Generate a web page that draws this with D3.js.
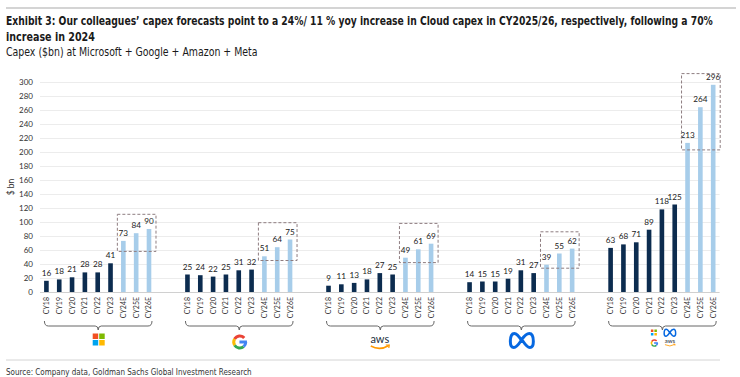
<!DOCTYPE html>
<html>
<head>
<meta charset="utf-8">
<script src="https://cdn.jsdelivr.net/npm/d3@7"></script>
<style>
  html, body { margin: 0; padding: 0; background: #fff; }
  svg { display: block; }
  .cond { font-family: "Liberation Sans Narrow", "DejaVu Sans Condensed", "Roboto Condensed", sans-serif; }
  .lab { font-family: Lato, "Liberation Sans", sans-serif; }
</style>
</head>
<body>
<svg id="chart" width="740" height="377"></svg>
<script>
// ---------- data ----------
const companies = ["Microsoft", "Google", "Amazon", "Meta", "Total"];
const years = ["CY18", "CY19", "CY20", "CY21", "CY22", "CY23", "CY24E", "CY25E", "CY26E"];
const msft   = [16, 18, 21, 28, 28, 41, 73, 84, 90];
const google = [25, 24, 22, 25, 31, 32, 51, 64, 75];
const amazon = [9, 11, 13, 18, 27, 25, 49, 61, 69];
const meta   = [14, 15, 15, 19, 31, 27, 39, 55, 62];
const total  = [63, 68, 71, 89, 118, 125, 213, 264, 296];
const yTicks = [0, 20, 40, 60, 80, 100, 120, 140, 160, 180, 200, 220, 240, 260, 280, 300];
// dashed highlight boxes around the estimates (data units)
const boxLow  = [58, 45, 42, 34, 203];
const boxHigh = [111, 99, 98, 86, 312];

const titleLine1 = "Exhibit 3: Our colleagues\u2019 capex forecasts point to a 24%/ 11 % yoy increase in Cloud capex in CY2025/26, respectively, following a 70%";
const titleLine2 = "increase in 2024";
const subtitle = "Capex ($bn) at Microsoft + Google + Amazon + Meta";
const source = "Source: Company data, Goldman Sachs Global Investment Research";

const seriesByCompany = [msft, google, amazon, meta, total];

// ---------- layout ----------
const svg = d3.select("#chart");
const DARK = "#0c2c4f", LIGHT = "#a7cdea";

// slots: 9 bars per group, 2 blank slots between groups
const slots = [];
companies.forEach((c, gi) => {
  years.forEach(y => slots.push(c + "|" + y));
  if (gi < companies.length - 1) { slots.push("gap" + gi + "a"); slots.push("gap" + gi + "b"); }
});
const x = d3.scaleBand().domain(slots).range([40, 719.6]).paddingInner(0.64).paddingOuter(0.32);
const y = d3.scaleLinear().domain([0, 300]).range([292, 82]);
const cx = k => x(k) + x.bandwidth() / 2;

// top rule
svg.append("line").attr("x1", 6).attr("x2", 736).attr("y1", 8).attr("y2", 8)
  .attr("stroke", "#d4d4d4").attr("stroke-width", 2);

// titles: fitted by horizontal scaling to the reference widths
function fitText(sel, xp, yp, width) {
  const w = sel.node().getComputedTextLength();
  sel.attr("transform", `translate(${xp},${yp}) scale(${width / w},1)`);
}
const t = svg.append("g").attr("class", "cond").attr("fill", "#1a1a1a");
fitText(t.append("text").attr("font-size", 12).attr("font-weight", "bold").text(titleLine1), 6, 25, 708);
fitText(t.append("text").attr("font-size", 12).attr("font-weight", "bold").text(titleLine2), 6, 41, 89);
fitText(t.append("text").attr("font-size", 11.5).text(subtitle), 6, 56, 252);

// gridlines + y axis
const yAxis = d3.axisLeft(y).tickValues(yTicks).tickSize(-(719.6 - 40)).tickPadding(6);
const ya = svg.append("g").attr("transform", "translate(40,0)").call(yAxis);
ya.select(".domain").remove();
ya.selectAll(".tick line").attr("stroke", d => d === 0 ? "#d0d0d0" : "#ececec").attr("stroke-width", 1);
ya.selectAll(".tick text").attr("class", "lab").attr("font-size", 8).attr("fill", "#333").attr("x", -7);

svg.append("text").attr("class", "lab").attr("font-size", 8.5).attr("fill", "#333")
  .attr("transform", `translate(14,${y(150)}) rotate(-90)`).attr("text-anchor", "middle").text("$ bn");

// bars
const rows = [];
companies.forEach((c, gi) => years.forEach((yr, i) => rows.push({ key: c + "|" + yr, yr, v: seriesByCompany[gi][i], est: yr.endsWith("E") })));

svg.append("g").selectAll("rect").data(rows).join("rect")
  .attr("x", d => x(d.key)).attr("width", x.bandwidth())
  .attr("y", d => y(d.v)).attr("height", d => y(0) - y(d.v))
  .attr("fill", d => d.est ? LIGHT : DARK);

// value labels
svg.append("g").attr("class", "lab").selectAll("text").data(rows).join("text")
  .attr("x", d => cx(d.key)).attr("y", d => y(d.v) - 5)
  .attr("text-anchor", "middle").attr("font-size", 8.2).attr("fill", "#222")
  .text(d => d.v);

// x labels (rotated)
svg.append("g").attr("class", "lab").selectAll("text").data(rows).join("text")
  .attr("transform", d => `translate(${cx(d.key) + 2.5},297) rotate(-90)`)
  .attr("text-anchor", "end").attr("font-size", 7).attr("fill", "#333")
  .text(d => d.yr);

// dashed boxes
companies.forEach((c, gi) => {
  const x0 = cx(c + "|CY24E") - 6, x1 = cx(c + "|CY26E") + 7;
  svg.append("rect").attr("x", x0).attr("width", x1 - x0)
    .attr("y", y(boxHigh[gi])).attr("height", y(boxLow[gi]) - y(boxHigh[gi]))
    .attr("fill", "none").attr("stroke", "#8e7d80").attr("stroke-width", 1).attr("stroke-dasharray", "3,2");
});

// brackets
companies.forEach((c, gi) => {
  const a = cx(c + "|CY18") - 2, b = cx(c + "|CY26E") + 3, m = (a + b) / 2;
  const yt = 321, yb = 326;
  const p = `M${a},${yt} Q${a},${yb} ${a + 4},${yb} L${m - 3},${yb} Q${m},${yb} ${m},${yb + 4} Q${m},${yb} ${m + 3},${yb} L${b - 4},${yb} Q${b},${yb} ${b},${yt}`;
  svg.append("path").attr("d", p).attr("fill", "none").attr("stroke", "#666").attr("stroke-width", 1);
});

// logos
function msLogo(g, cxp, cyp, s) {
  const h = s / 2 - 0.5;
  const cols = [["#f25022", "#7fba00"], ["#00a4ef", "#ffb900"]];
  for (let r = 0; r < 2; r++) for (let c = 0; c < 2; c++)
    g.append("rect").attr("x", cxp - s / 2 + c * (h + 1)).attr("y", cyp - s / 2 + r * (h + 1))
      .attr("width", h).attr("height", h).attr("fill", cols[r][c]);
}
function gLogo(g, cxp, cyp, r, w) {
  const deg = Math.PI / 180;
  const arc = d3.arc().innerRadius(r - w).outerRadius(r);
  const segs = [[-60, 48, "#ea4335"], [-122, -60, "#fbbc05"], [140, 238, "#34a853"], [90, 140, "#4285f4"]];
  segs.forEach(s => g.append("path").attr("transform", `translate(${cxp},${cyp})`)
    .attr("d", arc({ startAngle: s[0] * deg, endAngle: s[1] * deg })).attr("fill", s[2]));
  g.append("rect").attr("x", cxp - 0.3).attr("y", cyp - w / 2).attr("width", r).attr("height", w).attr("fill", "#4285f4");
}
function awsLogo(g, cxp, cyp, s) {
  g.append("text").attr("x", cxp).attr("y", cyp).attr("text-anchor", "middle")
    .attr("font-family", "Lato, sans-serif").attr("font-size", 11 * s).attr("fill", "#232f3e").text("aws");
  g.append("path").attr("d", `M${cxp - 9 * s},${cyp + 3 * s} Q${cxp},${cyp + 8 * s} ${cxp + 9 * s},${cyp + 2.5 * s}`)
    .attr("fill", "none").attr("stroke", "#ff9900").attr("stroke-width", 1.5 * s);
  g.append("path").attr("d", `M${cxp + 6 * s},${cyp + 2 * s} L${cxp + 9.5 * s},${cyp + 2 * s} L${cxp + 9 * s},${cyp + 5 * s}`)
    .attr("fill", "none").attr("stroke", "#ff9900").attr("stroke-width", 1.2 * s);
}
function metaLogo(g, cxp, cyp, s) {
  const p = `M0,0 C-3,-5 -5,-7.5 -7.5,-7.5 C-10.5,-7.5 -11.5,-3.5 -11.5,0.5 C-11.5,4.5 -10,6.5 -8,6.5 C-5,6.5 -3,3 0,-1.5 C3,-6 5,-7.5 7.5,-7.5 C10.5,-7.5 11.5,-3.5 11.5,0.5 C11.5,4.5 10,6.5 8,6.5 C5,6.5 3,3 0,-1.5`;
  g.append("path").attr("transform", `translate(${cxp},${cyp}) scale(${s})`).attr("d", p)
    .attr("fill", "none").attr("stroke", "#0668e1").attr("stroke-width", 3).attr("stroke-linejoin", "round");
}
const lg = svg.append("g");
const gc = c => (cx(c + "|CY18") + cx(c + "|CY26E")) / 2;
msLogo(lg, gc("Microsoft") + 1, 339.5, 12);
gLogo(lg, gc("Google") + 1, 342, 7.5, 3);
awsLogo(lg, gc("Amazon"), 343, 1);
metaLogo(lg, gc("Meta") + 1, 341, 1);
const tc = gc("Total");
msLogo(lg, tc - 8, 332.5, 6);
metaLogo(lg, tc + 8, 333, 0.5);
gLogo(lg, tc - 7.5, 343, 3.8, 1.6);
awsLogo(lg, tc + 8, 343, 0.55);

// bottom rule + source
svg.append("line").attr("x1", 6).attr("x2", 720).attr("y1", 360).attr("y2", 360)
  .attr("stroke", "#d4d4d4").attr("stroke-width", 1);
fitText(svg.append("text").attr("class", "cond").attr("font-size", 9.5).attr("fill", "#333").text(source), 6, 375, 246);
</script>
</body>
</html>
